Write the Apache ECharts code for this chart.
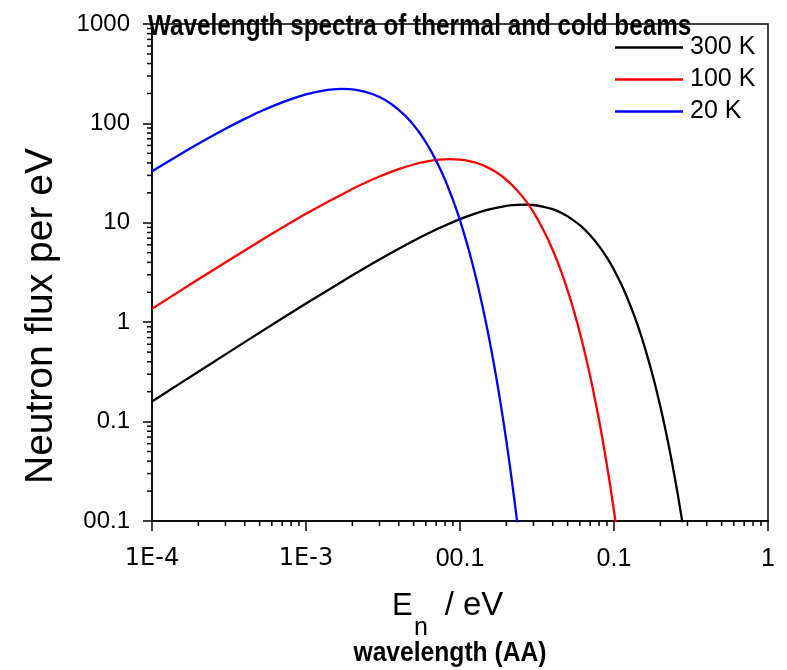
<!DOCTYPE html>
<html>
<head>
<meta charset="utf-8">
<script src="https://cdn.jsdelivr.net/npm/echarts@6/dist/echarts.min.js"></script>
<style>
  html, body { margin: 0; padding: 0; background: #fff; }
  #chart { width: 787px; height: 670px; }
</style>
</head>
<body>
<div id="chart"></div>
<script>
// ---- data ----
const seriesNames = ['300 K', '100 K', '20 K'];

const energy300 = [1e-4, 2e-4, 5e-4, 1e-3, 2e-3, 3e-3, 5e-3, 7e-3, 0.01, 0.012, 0.015, 0.02, 0.022, 0.026, 0.03, 0.035, 0.04, 0.045, 0.05, 0.06, 0.07, 0.08, 0.09, 0.1, 0.115, 0.13, 0.145, 0.16, 0.18, 0.2, 0.22, 0.24, 0.26, 0.28];
const flux300   = [0.159, 0.318, 0.785, 1.54, 2.96, 4.28, 6.59, 8.55, 10.9, 12.1, 13.5, 14.8, 15.06, 15.2, 15.1, 14.5, 13.7, 12.7, 11.6, 9.47, 7.51, 5.83, 4.46, 3.37, 2.17, 1.37, 0.861, 0.53, 0.276, 0.142, 0.072, 0.0363, 0.0182, 0.00905];

const energy100 = [1e-4, 2e-4, 5e-4, 1e-3, 2e-3, 3e-3, 4e-3, 5e-3, 6e-3, 7e-3, 0.0086, 0.01, 0.0115, 0.013, 0.015, 0.017, 0.019, 0.022, 0.026, 0.03, 0.035, 0.04, 0.045, 0.05, 0.055, 0.06, 0.065, 0.07, 0.075, 0.08, 0.085, 0.09, 0.095, 0.1, 0.105];
const flux100   = [1.364, 2.70, 6.51, 12.3, 21.9, 29.2, 34.7, 38.6, 41.3, 42.9, 43.8, 43.3, 41.8, 39.7, 36.3, 32.6, 28.9, 23.6, 17.6, 12.8, 8.33, 5.33, 3.36, 2.09, 1.284, 0.786, 0.476, 0.287, 0.172, 0.103, 0.0612, 0.0363, 0.0214, 0.0126, 0.00743];

const energy20  = [1e-4, 1.5e-4, 2e-4, 3e-4, 4e-4, 5e-4, 7e-4, 1e-3, 1.3e-3, 1.5e-3, 1.7e-3, 1.9e-3, 2.2e-3, 2.6e-3, 3e-3, 3.5e-3, 4e-3, 4.5e-3, 5e-3, 5.5e-3, 6e-3, 6.5e-3, 7e-3, 7.5e-3, 8e-3, 8.5e-3, 9e-3, 0.01, 0.011, 0.012, 0.013, 0.014, 0.015, 0.016, 0.017, 0.018, 0.019, 0.02, 0.021, 0.022, 0.023, 0.024];
const flux20    = [33.0, 48.1, 62.3, 88.2, 111, 131, 163, 196, 214, 219.8, 222, 220.8, 215, 201, 184, 160.7, 137, 115.6, 96.1, 79.1, 64.6, 52.3, 42.1, 33.8, 27.0, 21.4, 17.0, 10.6, 6.50, 3.97, 2.41, 1.45, 0.869, 0.519, 0.309, 0.183, 0.108, 0.0636, 0.0373, 0.0219, 0.0128, 0.0075];

const xTickValues = [1e-4, 1e-3, 0.01, 0.1, 1];
const xTickLabels = ['1E-4', '1E-3', '00.1', '0.1', '1'];
const yTickValues = [0.01, 0.1, 1, 10, 100, 1000];
const yTickLabels = ['00.1', '0.1', '1', '10', '100', '1000'];
const minorMultipliers = [2, 3, 4, 5, 6, 7, 8, 9];

// ---- build ----
function pairs(xs, ys) { return xs.map((x, i) => [x, ys[i]]); }
function labelFor(v, vals, labels) {
  let best = 0, bd = Infinity;
  vals.forEach((t, i) => { const d = Math.abs(Math.log10(t) - Math.log10(v)); if (d < bd) { bd = d; best = i; } });
  return bd < 1e-6 ? labels[best] : '';
}
const xMinor = [], yMinor = [];
xTickValues.slice(0, -1).forEach(d => minorMultipliers.forEach(m => xMinor.push([d * m, yTickValues[0]])));
yTickValues.slice(0, -1).forEach(d => minorMultipliers.forEach(m => yMinor.push([xTickValues[0], d * m])));

const SANS = '"Liberation Sans", Arial, Helvetica, sans-serif';

const chart = echarts.init(document.getElementById('chart'), null, { renderer: 'canvas' });

function minorTickSeries(data, dir) {
  return {
    type: 'custom',
    silent: true,
    clip: false,
    z: 5,
    data: data,
    renderItem: function (params, api) {
      const p = api.coord([api.value(0), api.value(1)]);
      const shape = dir === 'x'
        ? { x1: p[0], y1: p[1], x2: p[0], y2: p[1] + 5 }
        : { x1: p[0] - 5, y1: p[1], x2: p[0], y2: p[1] };
      return { type: 'line', shape: shape, style: { stroke: '#000', lineWidth: 1.5 } };
    }
  };
}

const lineColors = ['#000000', '#ff0000', '#0000ff'];
const lineData = [pairs(energy300, flux300), pairs(energy100, flux100), pairs(energy20, flux20)];

const option = {
  backgroundColor: '#fff',
  animation: false,
  legend: {
    data: seriesNames,
    orient: 'vertical',
    left: 615,
    top: 35,
    padding: 0,
    icon: 'rect',
    itemWidth: 68,
    itemHeight: 2.5,
    itemGap: 7,
    textStyle: { fontFamily: SANS, fontSize: 25, color: '#000', lineHeight: 25, padding: [0, 0, 0, 2] }
  },
  grid: {
    left: 152, top: 24, width: 616, height: 497,
    show: true, borderColor: '#000', borderWidth: 1.5, backgroundColor: 'transparent'
  },
  xAxis: {
    type: 'log', logBase: 10, min: 1e-4, max: 1,
    axisLine: { lineStyle: { color: '#000', width: 1.5 } },
    axisTick: { show: true, inside: false, length: 10, lineStyle: { color: '#000', width: 1.5 } },
    splitLine: { show: false },
    minorTick: { show: false },
    axisLabel: {
      margin: 26,
      color: '#000',
      formatter: function (v) {
        const s = labelFor(v, xTickValues, xTickLabels);
        if (!s) return '';
        return s.indexOf('E') >= 0 ? '{d|' + s + '}' : '{h|' + s + '}';
      },
      rich: {
        d: { fontFamily: '"DejaVu Sans", sans-serif', fontSize: 24, color: '#000' },
        h: { fontFamily: SANS, fontSize: 25, color: '#000' }
      }
    }
  },
  yAxis: {
    type: 'log', logBase: 10, min: 0.01, max: 1000,
    axisLine: { lineStyle: { color: '#000', width: 1.5 } },
    axisTick: { show: true, inside: false, length: 9, lineStyle: { color: '#000', width: 1.5 } },
    splitLine: { show: false },
    axisLabel: {
      margin: 22,
      color: '#000',
      fontFamily: SANS,
      fontSize: 24,
      formatter: function (v) { return labelFor(v, yTickValues, yTickLabels); }
    }
  },
  graphic: [
    {
      type: 'text', x: 148, y: 27, scaleX: 0.81, z: 100,
      style: { text: 'Wavelength spectra of thermal and cold beams', font: 'bold 30px ' + SANS, fill: '#000', align: 'left', verticalAlign: 'middle' }
    },
    {
      type: 'text', x: 41, y: 316, rotation: Math.PI / 2,
      style: { text: 'Neutron flux per eV', font: '39px ' + SANS, fill: '#000', align: 'center', verticalAlign: 'middle' }
    },
    {
      type: 'text', x: 392, y: 606,
      style: { text: 'E', font: '31px ' + SANS, fill: '#000', align: 'left', verticalAlign: 'middle' }
    },
    {
      type: 'text', x: 414, y: 628,
      style: { text: 'n', font: '25px ' + SANS, fill: '#000', align: 'left', verticalAlign: 'middle' }
    },
    {
      type: 'text', x: 474, y: 606,
      style: { text: '/ eV', font: '33px ' + SANS, fill: '#000', align: 'center', verticalAlign: 'middle' }
    },
    {
      type: 'text', x: 450, y: 653, scaleX: 0.88,
      style: { text: 'wavelength (AA)', font: 'bold 28px ' + SANS, fill: '#000', align: 'center', verticalAlign: 'middle' }
    }
  ],
  series: seriesNames.map((name, i) => ({
    name: name,
    type: 'line',
    data: lineData[i],
    symbol: 'none',
    smooth: 0.25,
    clip: true,
    z: 3,
    lineStyle: { color: lineColors[i], width: 2.3 },
    itemStyle: { color: lineColors[i] }
  })).concat([minorTickSeries(xMinor, 'x'), minorTickSeries(yMinor, 'y')])
};

chart.setOption(option);
</script>
</body>
</html>
